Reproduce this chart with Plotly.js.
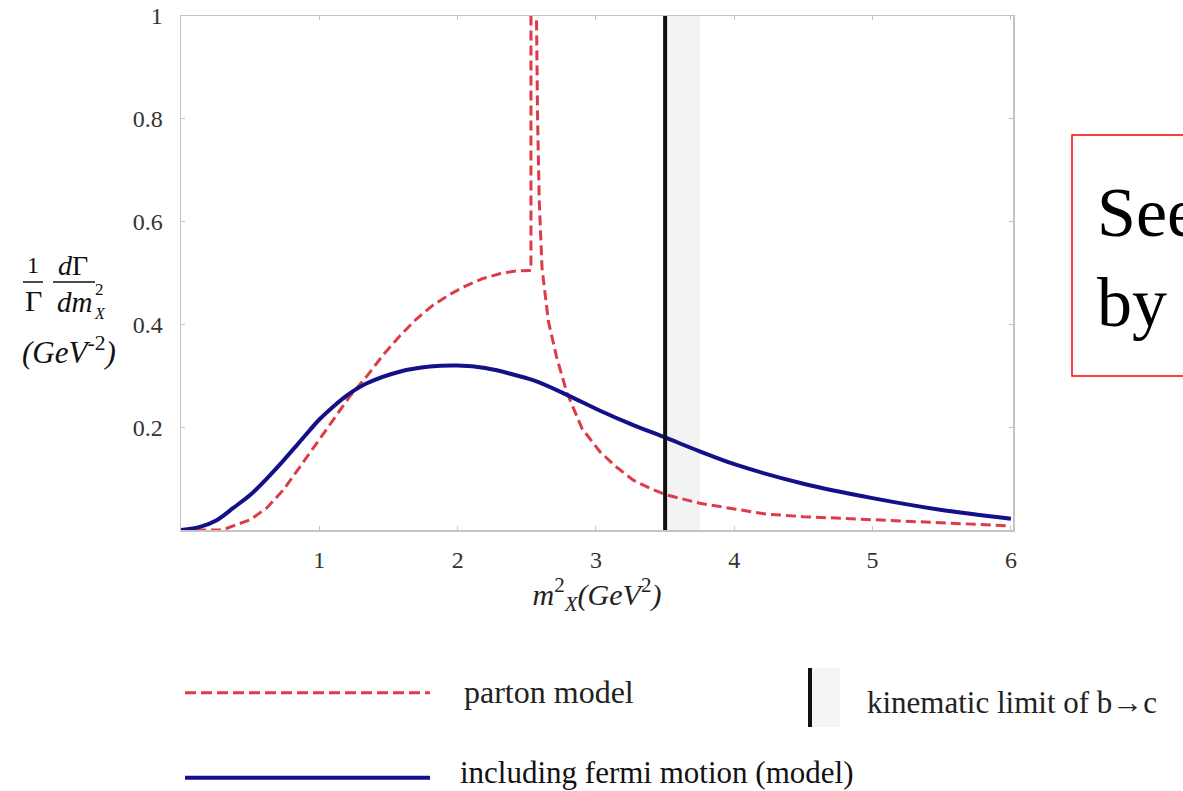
<!DOCTYPE html>
<html><head><meta charset="utf-8">
<script src="https://cdn.plot.ly/plotly-3.0.1.min.js"></script>
<style>html,body{margin:0;padding:0;background:#fff;overflow:hidden}</style>
</head><body><div id="chart" style="width:1183px;height:791px"></div>
<script>
// ---- data ----
const xTickVals = [1, 2, 3, 4, 5, 6];
const xTickText = ['1', '2', '3', '4', '5', '6'];
const yTickVals = [0.2, 0.4, 0.6, 0.8, 1];
const yTickText = ['0.2', '0.4', '0.6', '0.8', '1'];

const partonName = 'parton model';
const partonX = [0, 0.3, 0.378, 0.5, 0.62, 0.74, 0.86, 1.0, 1.1, 1.22, 1.34, 1.46, 1.58, 1.7, 1.82, 1.94, 2.06, 2.18, 2.31, 2.42, 2.53, 2.53, 2.57, 2.57, 2.578, 2.59, 2.61, 2.656, 2.716, 2.79, 2.9, 3.03, 3.15, 3.27, 3.4, 3.5, 3.75, 4.0, 4.23, 4.5, 5.0, 5.5, 6.0];
const partonY = [0, 0, 0.008, 0.02, 0.043, 0.078, 0.123, 0.175, 0.214, 0.26, 0.298, 0.34, 0.377, 0.41, 0.437, 0.458, 0.475, 0.489, 0.499, 0.504, 0.505, 1.2, 1.2, 1.0, 0.8, 0.64, 0.51, 0.406, 0.336, 0.267, 0.197, 0.152, 0.122, 0.097, 0.08, 0.069, 0.052, 0.041, 0.031, 0.026, 0.02, 0.013, 0.008];

const fermiName = 'including fermi motion (model)';
const fermiX = [0, 0.137, 0.258, 0.378, 0.5, 0.62, 0.74, 0.86, 1.0, 1.1, 1.2, 1.34, 1.58, 1.8, 2.0, 2.2, 2.55, 2.79, 3.03, 3.27, 3.5, 3.75, 4.0, 4.5, 5.0, 5.5, 6.0];
const fermiY = [0, 0.006, 0.019, 0.043, 0.068, 0.1, 0.135, 0.172, 0.215, 0.24, 0.262, 0.285, 0.308, 0.318, 0.32, 0.315, 0.291, 0.263, 0.232, 0.204, 0.18, 0.153, 0.128, 0.09, 0.062, 0.039, 0.022];

const limitName = 'kinematic limit of b\u2192c';
const limitX = [3.5, 3.5];
const limitY = [0, 1];
const bandX = [3.5, 3.75, 3.75, 3.5, 3.5];
const bandY = [0, 0, 1, 1, 0];

// ---- styles ----
const RED = '#dc3c46', NAVY = '#14108a', SERIF = 'Liberation Serif, Times New Roman, serif';
const L = 181, R = 1013, T = 16, B = 530;
const px = x => (x - L) / (R - L);
const py = y => (B - y) / (B - T);

const traces = [
  {x: bandX, y: bandY, type: 'scatter', mode: 'lines', fill: 'toself', fillcolor: '#f3f3f3', line: {width: 0}, hoverinfo: 'skip', showlegend: false},
  {x: partonX, y: partonY, type: 'scatter', mode: 'lines', name: partonName, line: {color: RED, width: 3, dash: '10px,5px'}, showlegend: false},
  {x: fermiX, y: fermiY, type: 'scatter', mode: 'lines', name: fermiName, line: {color: NAVY, width: 4, shape: 'spline', smoothing: 0.8}, showlegend: false},
  {x: limitX, y: limitY, type: 'scatter', mode: 'lines', name: limitName, line: {color: '#111', width: 4}, showlegend: false}
];

function ann(text, x, y, size, opts) {
  return Object.assign({text: text, xref: 'paper', yref: 'paper', x: px(x), y: py(y), showarrow: false,
    xanchor: 'center', yanchor: 'middle', font: {family: SERIF, size: size, color: '#111'}}, opts || {});
}

const annotations = [
  ann('1', 33, 265, 24),
  ann('\u0393', 33, 300, 30),
  ann('<i>d</i>\u0393', 73, 265, 28),
  ann('<i>dm</i>', 74, 302, 29),
  ann('2', 99, 289, 17),
  ann('<i>X</i>', 100, 313, 16),
  ann('<i>(GeV</i><sup>-2</sup><i>)</i>', 69, 350, 31),
  ann('parton model', 462, 692, 32, {xanchor: 'left', font: {family: SERIF, size: 32, color: '#222'}}),
  ann(limitName, 865, 702, 31, {xanchor: 'left', font: {family: SERIF, size: 31, color: '#222'}}),
  ann(fermiName, 458, 772, 31, {xanchor: 'left', font: {family: SERIF, size: 31, color: '#111'}}),
  ann('See', 1095, 212, 70, {xanchor: 'left', font: {family: SERIF, size: 70, color: '#000'}}),
  ann('by', 1095, 302, 70, {xanchor: 'left', font: {family: SERIF, size: 70, color: '#000'}})
];

const shapes = [
  {type: 'line', xref: 'paper', yref: 'paper', x0: px(23), x1: px(43), y0: py(282), y1: py(282), line: {color: '#111', width: 1.5}},
  {type: 'line', xref: 'paper', yref: 'paper', x0: px(53), x1: px(95), y0: py(282), y1: py(282), line: {color: '#111', width: 1.5}},
  {type: 'line', xref: 'paper', yref: 'paper', x0: px(185), x1: px(430), y0: py(692.7), y1: py(692.7), line: {color: RED, width: 3, dash: '11px,5px'}},
  {type: 'rect', xref: 'paper', yref: 'paper', x0: px(812), x1: px(840), y0: py(668), y1: py(727), fillcolor: '#f5f5f5', line: {width: 0}},
  {type: 'line', xref: 'paper', yref: 'paper', x0: px(810), x1: px(810), y0: py(668), y1: py(727), line: {color: '#111', width: 4}},
  {type: 'line', xref: 'paper', yref: 'paper', x0: px(185), x1: px(430), y0: py(777.7), y1: py(777.7), line: {color: NAVY, width: 4}},
  {type: 'rect', xref: 'paper', yref: 'paper', x0: px(1072), x1: px(1220), y0: py(135), y1: py(376), line: {color: '#ff0000', width: 1.5}}
];

const axisCommon = {
  showgrid: false, zeroline: false, showline: true, linecolor: '#c4c4c4', linewidth: 1.5, mirror: 'ticks',
  ticks: 'inside', ticklen: 4, tickcolor: '#c4c4c4', tickwidth: 1,
  tickfont: {family: SERIF, size: 24, color: '#333'}
};

const layout = {
  width: 1183, height: 791,
  margin: {l: L, r: 1183 - R, t: T, b: 791 - B, pad: 0},
  paper_bgcolor: '#fff', plot_bgcolor: '#fff',
  showlegend: false,
  xaxis: Object.assign({}, axisCommon, {range: [0, 6.015], tickmode: 'array', tickvals: xTickVals, ticktext: xTickText,
    ticklabelstandoff: 8,
    title: {text: '<i>m</i><sup>2</sup><sub><i>X</i></sub><i>(GeV</i><sup>2</sup><i>)</i>', font: {family: SERIF, size: 30, color: '#222'}, standoff: 10}}),
  yaxis: Object.assign({}, axisCommon, {range: [0, 1], tickmode: 'array', tickvals: yTickVals, ticktext: yTickText,
    ticklabelstandoff: 12}),
  annotations: annotations,
  shapes: shapes
};

Plotly.newPlot('chart', traces, layout, {staticPlot: true, displayModeBar: false});
</script></body></html>
